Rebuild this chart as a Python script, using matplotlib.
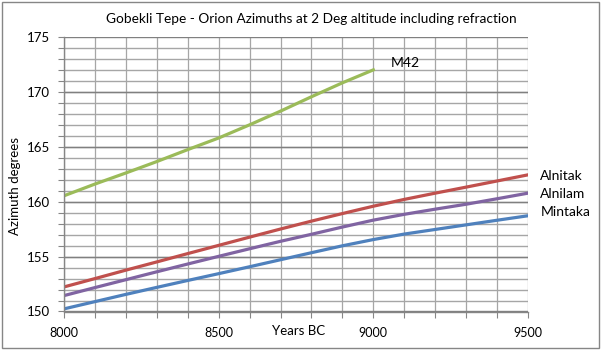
import matplotlib.pyplot as plt
from matplotlib.patches import Rectangle
from matplotlib.ticker import MultipleLocator

# azimuth (degrees) at 2 deg altitude, every 100 years BC
years = [8000, 8100, 8200, 8300, 8400, 8500, 8600, 8700,
         8800, 8900, 9000, 9100, 9200, 9300, 9400, 9500]
m42_years = years[:11]
m42 = [160.55, 161.62, 162.63, 163.67, 164.76, 165.82, 167.02, 168.27,
       169.58, 170.85, 172.03]
alnitak = [152.24, 153.0, 153.77, 154.52, 155.28, 156.03, 156.78, 157.52,
           158.24, 158.93, 159.6, 160.22, 160.79, 161.34, 161.9, 162.46]
alnilam = [151.45, 152.18, 152.9, 153.62, 154.33, 155.03, 155.72, 156.4,
           157.04, 157.7, 158.33, 158.86, 159.33, 159.78, 160.28, 160.79]
mintaka = [150.24, 150.9, 151.56, 152.2, 152.83, 153.45, 154.08, 154.72,
           155.36, 155.99, 156.56, 157.06, 157.48, 157.9, 158.32, 158.73]

plt.rcParams['font.family'] = ['Lato', 'DejaVu Sans']

fig = plt.figure(figsize=(6.01, 3.5), dpi=100)
fig.patches.append(Rectangle((0.004, 0.006), 0.992, 0.988, transform=fig.transFigure,
                             fill=False, edgecolor='#868686', linewidth=1.0))

ax = fig.add_axes([64/601, 1-311.5/350, 464/601, 274.2/350])

# gridlines every degree and century, darker every 5 degrees
ax.vlines(years, 150, 175, colors='#A6A6A6', linewidth=0.9, zorder=0)
ax.hlines(range(151, 175), 8000, 9500, colors='#A6A6A6', linewidth=1.0, zorder=0)
ax.hlines(range(150, 176, 5), 8000, 9500, colors='#808080', linewidth=1.0, zorder=0.5)

ax.set_xlim(8000, 9500)
ax.set_ylim(150, 175)
ax.xaxis.set_major_locator(MultipleLocator(500))
ax.xaxis.set_minor_locator(MultipleLocator(100))
ax.yaxis.set_major_locator(MultipleLocator(5))
ax.yaxis.set_minor_locator(MultipleLocator(1))

ax.tick_params(which='both', direction='out', length=4, color='#868686', width=0.8)
ax.tick_params(axis='x', which='major', pad=7.5, labelsize=9)
ax.tick_params(axis='y', which='major', pad=6, labelsize=9.5)

for side in ['top', 'right']:
    ax.spines[side].set_visible(False)
for side in ['left', 'bottom']:
    ax.spines[side].set_color('#868686')
    ax.spines[side].set_linewidth(1.0)

lw = 2.3
ax.plot(m42_years, m42, color='#9BBB59', linewidth=lw)
ax.plot(years, alnitak, color='#C0504D', linewidth=lw)
ax.plot(years, alnilam, color='#8064A2', linewidth=lw)
ax.plot(years, mintaka, color='#4F81BD', linewidth=lw)

ax.text(9057, 172.66, 'M42', fontsize=10, va='center', ha='left')
ax.text(9540, alnitak[-1] - 0.15, 'Alnitak', fontsize=10, va='center', clip_on=False)
ax.text(9540, 160.75, 'Alnilam', fontsize=10, va='center', clip_on=False)
ax.text(9540, 159.05, 'Mintaka', fontsize=10, va='center', clip_on=False)

fig.text(311/601, 1-19/350, 'Gobekli Tepe - Orion Azimuths at 2 Deg altitude including refraction',
         ha='center', va='center', fontsize=9.8)
fig.text(298.5/601, 1-330.7/350, 'Years BC', ha='center', va='center', fontsize=9.5)
fig.text(15/601, 1-186/350, 'Azimuth degrees', ha='center', va='center',
         rotation=90, fontsize=9.5)

fig.savefig('out.png', dpi=100)
plt.close()
